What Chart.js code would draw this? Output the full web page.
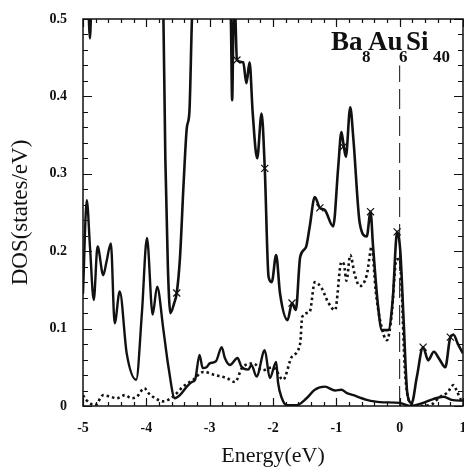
<!DOCTYPE html>
<html>
<head>
<meta charset="utf-8">
<script src="https://cdn.jsdelivr.net/npm/chart.js@4.4.1/dist/chart.umd.min.js"></script>
<style>
  html, body { margin: 0; padding: 0; background: #fff; overflow: hidden; }
  canvas { display: block; }
</style>
</head>
<body>
<canvas id="dosChart" width="464" height="469"></canvas>
<script>
// ── Data (values above 0.5 are off-scale, clipped) ──────────────────────────

const totalE = [-5.00, -4.93, -4.89, -4.86, -4.80, -4.40, -4.00, -3.78, -3.73, -3.70, -3.66, -3.62, -3.56, -3.52,
    -3.47, -3.41, -3.36, -3.32, -3.28, -3.24, -3.00, -2.72, -2.665, -2.645, -2.625, -2.60, -2.57, -2.47, -2.42,
    -2.37, -2.32, -2.25, -2.18, -2.13, -2.07, -2.02, -1.95, -1.89, -1.77, -1.70, -1.64, -1.57, -1.48, -1.42,
    -1.34, -1.26, -1.18, -1.05, -0.97, -0.92, -0.89, -0.85, -0.78, -0.73, -0.63, -0.52, -0.46, -0.42, -0.34,
    -0.28, -0.18, -0.11, -0.04, 0.01, 0.06, 0.12, 0.19, 0.27, 0.37, 0.45, 0.54, 0.63, 0.72, 0.80, 0.85, 0.92, 1.00];
const totalDos = [0.60, 0.56, 0.475, 0.56, 0.62, 0.64, 0.63, 0.58, 0.50, 0.32, 0.18, 0.12, 0.133, 0.146,
    0.19, 0.29, 0.36, 0.38, 0.50, 0.58, 0.64, 0.56, 0.50, 0.395, 0.49, 0.51, 0.447, 0.444, 0.417,
    0.444, 0.378, 0.32, 0.378, 0.307, 0.167, 0.16, 0.195, 0.146, 0.111, 0.133, 0.124, 0.193, 0.205, 0.232,
    0.27, 0.256, 0.253, 0.232, 0.309, 0.354, 0.34, 0.322, 0.386, 0.344, 0.236, 0.219, 0.251, 0.206, 0.128,
    0.098, 0.098, 0.137, 0.225, 0.20, 0.115, 0.017, 0.004, 0.037, 0.076, 0.059, 0.07, 0.06, 0.05, 0.089, 0.092, 0.08, 0.068];

const lowE = [-5.00, -4.94, -4.89, -4.83, -4.77, -4.68, -4.63, -4.56, -4.50, -4.42, -4.31, -4.16, -4.07, -3.99,
    -3.90, -3.83, -3.73, -3.65, -3.55, -3.47, -3.36, -3.28, -3.23, -3.16, -3.11, -3.05, -3.00, -2.90, -2.81,
    -2.76, -2.68, -2.56, -2.50, -2.39, -2.34, -2.26, -2.13, -2.05, -1.95, -1.92, -1.86, -1.78, -1.63, -1.47,
    -1.34, -1.18, -1.02, -0.92, -0.84, -0.73, -0.60, -0.52, -0.31, 0.00, 0.16, 0.37, 0.53, 0.69, 0.82, 0.95, 1.00];
const lowDos = [0.145, 0.266, 0.206, 0.137, 0.206, 0.169, 0.186, 0.21, 0.107, 0.148, 0.068, 0.034, 0.12, 0.217,
    0.118, 0.154, 0.098, 0.05, 0.01, 0.014, 0.025, 0.031, 0.034, 0.066, 0.049, 0.05, 0.055, 0.058, 0.076,
    0.062, 0.053, 0.062, 0.051, 0.047, 0.053, 0.038, 0.072, 0.036, 0.057, 0.03, 0.01, 0.001, 0.001, 0.01,
    0.021, 0.025, 0.02, 0.021, 0.017, 0.014, 0.01, 0.008, 0.005, 0.004, 0.0, 0.004, 0.009, 0.012, 0.008, 0.007, 0.007];

const dotE = [-5.00, -4.95, -4.81, -4.68, -4.57, -4.47, -4.34, -4.23, -4.15, -4.03, -3.97, -3.86, -3.73, -3.58,
    -3.42, -3.26, -3.10, -2.92, -2.73, -2.60, -2.49, -2.31, -2.17, -2.00, -1.84, -1.70, -1.57, -1.54, -1.42,
    -1.34, -1.23, -1.13, -1.02, -0.92, -0.88, -0.84, -0.78, -0.71, -0.63, -0.52, -0.44, -0.38, -0.31, -0.20,
    -0.13, -0.05, 0.00, 0.03, 0.08, 0.16, 0.30, 0.50, 0.64, 0.75, 0.85, 0.90, 0.98, 1.00];
const dotDos = [0.014, 0.008, 0.001, 0.014, 0.012, 0.01, 0.014, 0.01, 0.012, 0.023, 0.017, 0.01, 0.006, 0.012,
    0.025, 0.034, 0.044, 0.04, 0.036, 0.031, 0.049, 0.055, 0.046, 0.05, 0.034, 0.064, 0.081, 0.115, 0.122,
    0.16, 0.152, 0.134, 0.124, 0.186, 0.183, 0.162, 0.195, 0.17, 0.155, 0.169, 0.206, 0.15, 0.111, 0.085,
    0.115, 0.189, 0.19, 0.154, 0.05, 0.005, 0.0, 0.002, 0.012, 0.017, 0.027, 0.02, 0.008, 0.008];

const markE = [-3.52, -2.57, -2.13, -1.70, -1.26, -0.89, -0.46, -0.04, 0.37, 0.80];
const markDos = [0.146, 0.447, 0.307, 0.133, 0.256, 0.335, 0.251, 0.225, 0.076, 0.089];

const fermiE = [0, 0];
const fermiDos = [0, 0.44];

const xTicks = [-5, -4, -3, -2, -1, 0, 1];
const yTicks = [0, 0.1, 0.2, 0.3, 0.4, 0.5];
const xMinorStep = 0.2;
const yMinorStep = 0.02;

// ── Helpers ───────────────────────────────────────────────────────────────────

const serif = '"Liberation Serif", "Times New Roman", serif';

function toPoints(xs, ys) {
    return xs.map((x, i) => ({ x, y: ys[i] }));
}

function lineSet(xs, ys, width, dash) {
    return {
        data: toPoints(xs, ys),
        showLine: true,
        borderColor: '#111',
        borderWidth: width,
        borderDash: dash || [],
        pointRadius: 0,
        cubicInterpolationMode: 'monotone',
        fill: false,
    };
}

function noEdgePadding(scale) {
    scale.paddingLeft = 0;
    scale.paddingRight = 0;
    scale.paddingTop = 0;
    scale.paddingBottom = 0;
}

// label gap comes from an invisible tick mark
function hiddenTicks(len) {
    return { display: true, drawOnChartArea: false, drawTicks: true, tickLength: len, tickColor: 'rgba(0,0,0,0)' };
}

// Stretch the plot to the right edge of the canvas, as in the figure
const fullWidth = {
    id: 'fullWidth',
    afterLayout(chart) {
        const x = chart.scales.x;
        const right = chart.width - 1;
        if (!x || typeof x.configure !== 'function' || x.right >= right) return;
        x.right = right;
        x.width = right - x.left;
        x.configure();
        x._labelItems = null;
        chart.chartArea.right = right;
        chart.chartArea.width = right - chart.chartArea.left;
    },
};

// Frame, inward ticks on all four sides, and the compound label
const frameTicks = {
    id: 'frameTicks',
    afterDraw(chart) {
        const { ctx, chartArea: a, scales: { x, y } } = chart;
        ctx.save();
        ctx.strokeStyle = '#111';
        ctx.lineWidth = 1.5;
        ctx.strokeRect(a.left, a.top, a.right - a.left, a.bottom - a.top);

        ctx.lineWidth = 1.2;
        ctx.beginPath();
        const nx = Math.round((x.max - x.min) / xMinorStep);
        for (let i = 0; i <= nx; i++) {
            const v = x.min + i * xMinorStep;
            const px = Math.round(x.getPixelForValue(v)) + 0.5;
            const len = xTicks.some((t) => Math.abs(t - v) < 1e-6) ? 8 : 4;
            ctx.moveTo(px, a.bottom); ctx.lineTo(px, a.bottom - len);
            ctx.moveTo(px, a.top); ctx.lineTo(px, a.top + len);
        }
        const ny = Math.round((y.max - y.min) / yMinorStep);
        for (let i = 0; i <= ny; i++) {
            const v = y.min + i * yMinorStep;
            const py = Math.round(y.getPixelForValue(v)) + 0.5;
            const len = yTicks.some((t) => Math.abs(t - v) < 1e-6) ? 9 : 5;
            ctx.moveTo(a.left, py); ctx.lineTo(a.left + len, py);
            ctx.moveTo(a.right, py); ctx.lineTo(a.right - len, py);
        }
        ctx.stroke();

        // Ba8Au6Si40
        ctx.fillStyle = '#111';
        ctx.textBaseline = 'alphabetic';
        const big = `bold 27px ${serif}`;
        const small = `bold 17px ${serif}`;
        const parts = [['Ba', big, 331, 50], ['8', small, 362, 62], ['Au', big, 368, 50],
            ['6', small, 399, 62], ['Si', big, 406, 50], ['40', small, 433, 62]];
        parts.forEach(([t, f, px, py]) => {
            ctx.font = f;
            ctx.fillText(t, px, py);
        });
        ctx.restore();
    },
};

// ── Chart ─────────────────────────────────────────────────────────────────────

new Chart(document.getElementById('dosChart'), {
    type: 'scatter',
    data: {
        datasets: [
            lineSet(totalE, totalDos, 2.6),
            lineSet(lowE, lowDos, 2.4),
            lineSet(dotE, dotDos, 2.6, [2.5, 3]),
            {
                data: toPoints(markE, markDos),
                showLine: false,
                pointStyle: 'crossRot',
                pointRadius: 5,
                borderColor: '#111',
                borderWidth: 1.2,
            },
            Object.assign(lineSet(fermiE, fermiDos, 1, [20, 7]), { cubicInterpolationMode: 'default', tension: 0 }),
        ],
    },
    options: {
        responsive: false,
        animation: false,
        events: [],
        layout: { padding: { top: 19, right: 1, left: 0, bottom: 0 } },
        plugins: { legend: { display: false }, tooltip: { enabled: false } },
        scales: {
            x: {
                type: 'linear',
                min: -5,
                max: 1,
                afterFit(scale) { scale.height = 63; noEdgePadding(scale); },
                grid: hiddenTicks(14),
                border: { display: false },
                afterBuildTicks(scale) { scale.ticks = xTicks.map((value) => ({ value })); },
                ticks: {
                    color: '#111',
                    padding: 0,
                    font: { family: serif, weight: 'bold', size: 14 },
                },
                title: {
                    display: true,
                    text: 'Energy(eV)',
                    color: '#111',
                    padding: { top: 0, bottom: 0 },
                    font: { family: serif, size: 22 },
                },
            },
            y: {
                type: 'linear',
                min: 0,
                max: 0.5,
                afterFit(scale) { scale.width = 83; noEdgePadding(scale); },
                grid: hiddenTicks(16),
                border: { display: false },
                afterBuildTicks(scale) { scale.ticks = yTicks.map((value) => ({ value })); },
                ticks: {
                    color: '#111',
                    padding: 0,
                    font: { family: serif, weight: 'bold', size: 14 },
                    callback: (v) => String(+v.toFixed(1)),
                },
                title: {
                    display: true,
                    text: 'DOS(states/eV)',
                    color: '#111',
                    padding: { top: 7, bottom: 0 },
                    font: { family: serif, size: 23 },
                },
            },
        },
    },
    plugins: [fullWidth, frameTicks],
});
</script>
</body>
</html>
